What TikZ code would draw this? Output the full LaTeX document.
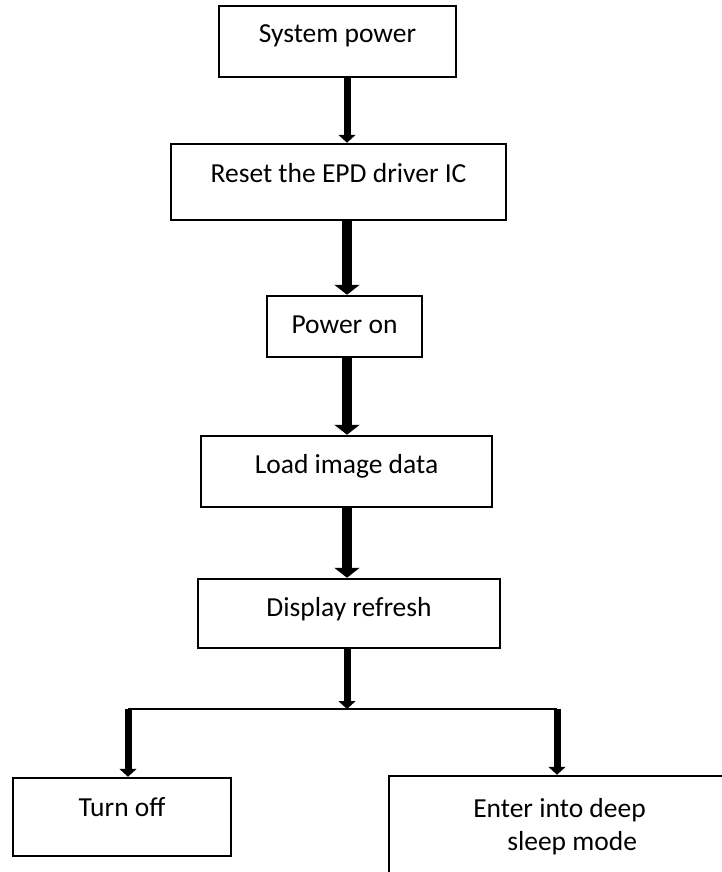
\documentclass[tikz,border=0pt]{standalone}
\usepackage{fontspec}
\setmainfont{Carlito}
\usetikzlibrary{arrows.meta}
\tikzset{
  box/.style={draw, line width=2.5pt},
  onetext/.style={text height=18pt, text depth=#1},
  onetext/.default=15pt,
  thinarrow/.style={line width=7pt, -{Triangle[width=17pt,length=8pt]}},
  thickarrow/.style={line width=10pt, -{Triangle[width=25pt,length=10pt]}},
  branch/.style={line width=1.6pt},
}

\begin{document}
\begin{tikzpicture}[x=1pt, y=-1pt, font=\fontsize{27.5}{33}\selectfont]
  \clip (0,0) rectangle (722,872);
  \useasboundingbox (0,0) rectangle (722,872);

  % process steps, top to bottom
  \node[box, onetext, minimum width=237pt, minimum height=71pt] (sys) at (337.5,41.5) {System power};
  \node[box, onetext=18pt, minimum width=335pt, minimum height=76pt] (reset) at (338.5,182) {Reset the EPD driver IC};
  \node[box, onetext=5pt, minimum width=155pt, minimum height=61pt] (poweron) at (344.5,326.5) {Power on};
  \node[box, onetext, minimum width=291pt, minimum height=71pt] (load) at (346.5,471.5) {Load image data};
  \node[box, onetext=13pt, minimum width=302pt, minimum height=69pt] (refresh) at (349,613.5) {Display refresh};

  % the two endings (right one runs off the page)
  \node[box, onetext=20pt, minimum width=218pt, minimum height=78pt] (turnoff) at (122,817) {Turn off};
  \node[box, align=left, minimum width=341pt, minimum height=101pt] (sleep) at (559.5,826.5) {Enter into deep\\\hspace*{34pt}sleep mode};

  % main spine and fork
  \coordinate (spine) at (347,0);
  \coordinate (fork) at (347,709);
  \coordinate (forkL) at (128,709);
  \coordinate (forkR) at (557,709);

  \draw[thinarrow] (sys.south -| spine) -- (reset.north -| spine);
  \draw[thickarrow] (reset.south -| spine) -- (poweron.north -| spine);
  \draw[thickarrow] (poweron.south -| spine) -- (load.north -| spine);
  \draw[thickarrow] (load.south -| spine) -- (refresh.north -| spine);
  \draw[thinarrow] (refresh.south -| spine) -- (fork);

  \draw[branch] (forkL) -- (forkR);
  \draw[thinarrow] (forkL) -- (forkL |- turnoff.north);
  \draw[thinarrow] (forkR) -- (forkR |- sleep.north);
\end{tikzpicture}
\end{document}
